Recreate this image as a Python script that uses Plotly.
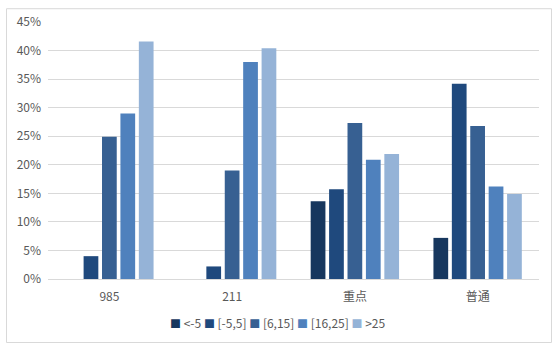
import plotly.graph_objects as go
import html

categories = ["985", "211", "重点", "普通"]
series_names = ["<-5", "[-5,5]", "[6,15]", "[16,25]", ">25"]
v_lt_m5 = [0, 0, 13.6, 7.2]
v_m5_5 = [4.0, 2.2, 15.7, 34.2]
v_6_15 = [24.9, 19.0, 27.3, 26.8]
v_16_25 = [29.0, 38.0, 20.9, 16.2]
v_gt_25 = [41.6, 40.4, 21.9, 14.9]
series_values = [v_lt_m5, v_m5_5, v_6_15, v_16_25, v_gt_25]
colors = ["#17375E", "#1F497D", "#376092", "#4F81BD", "#95B3D7"]
y_ticks = [0, 5, 10, 15, 20, 25, 30, 35, 40, 45]
y_tick_labels = [f"{t}%" for t in y_ticks]

fig = go.Figure()
for name, vals, col in zip(series_names, series_values, colors):
    fig.add_trace(go.Bar(x=categories, y=vals, name=name, marker_color=col,
                         marker_line_width=0, showlegend=False))

L, R, T, B = 48, 21, 18, 73
W, H = 560, 352
pw, ph = W - L - R, H - T - B

def px_x(p):
    return (p - L) / pw

def px_y(p):
    return (H - B - p) / ph

legend_text = " ".join(
    f"<span style='color:{c};font-size:11px'>■</span> {html.escape(n)}"
    for n, c in zip(series_names, colors)
)

fig.update_layout(
    width=W, height=H,
    margin=dict(l=L, r=R, t=T, b=B),
    paper_bgcolor="white", plot_bgcolor="white",
    barmode="group", bargap=0.25, bargroupgap=0.2,
    font=dict(family="Noto Sans CJK SC, Noto Sans, sans-serif", size=12, color="#595959"),
    xaxis=dict(showgrid=False, showline=False, ticks="", ticklabelstandoff=9,
               tickfont=dict(size=12, color="#595959")),
    yaxis=dict(range=[0, 45], tickvals=y_ticks, ticktext=y_tick_labels,
               showgrid=True, gridcolor="#D9D9D9", gridwidth=1, zeroline=True,
               zerolinecolor="#D9D9D9", zerolinewidth=1, showline=False, ticks="",
               ticklabelstandoff=6, tickfont=dict(size=12, color="#595959")),
    annotations=[dict(text=legend_text, xref="paper", yref="paper",
                      x=px_x(277), y=px_y(323), xanchor="center", yanchor="middle",
                      showarrow=False, font=dict(size=12, color="#595959"))],
    shapes=[dict(type="rect", xref="paper", yref="paper",
                 x0=px_x(6.5), x1=px_x(551.5), y0=px_y(343.5), y1=px_y(4.5),
                 line=dict(color="#D9D9D9", width=1), fillcolor="rgba(0,0,0,0)", layer="below")],
)

fig.write_html("out.html")
